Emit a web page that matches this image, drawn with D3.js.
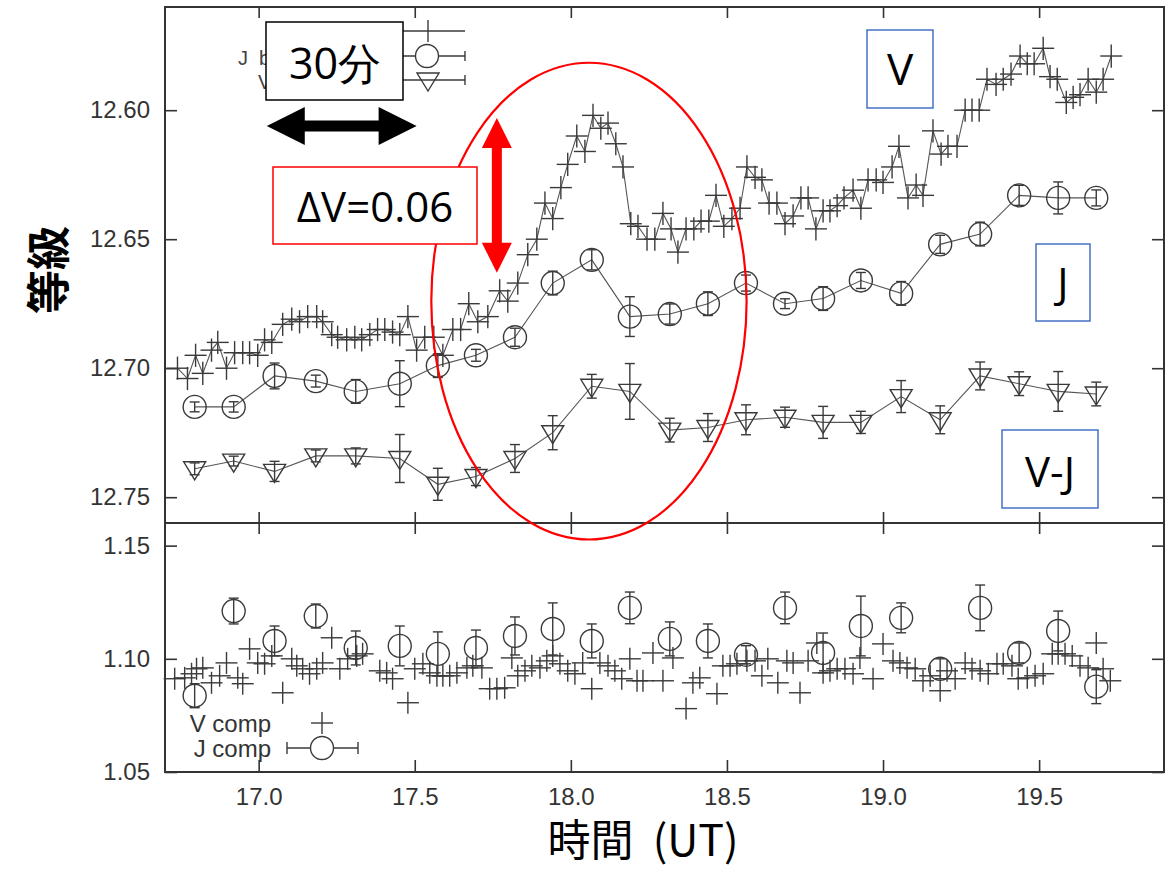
<!DOCTYPE html>
<html><head><meta charset="utf-8">
<script src="https://cdn.jsdelivr.net/npm/d3@7"></script>
<style>body{margin:0;background:#fff}svg{display:block}</style>
</head><body>
<svg id="c" width="1166" height="869"></svg>
<script>
// ---- data ----
const vTime = [16.740,16.772,16.798,16.821,16.849,16.869,16.897,16.923,16.949,16.971,
16.997,17.019,17.042,17.077,17.106,17.131,17.157,17.186,17.205,17.234,
17.253,17.282,17.308,17.330,17.356,17.381,17.404,17.429,17.452,17.478,
17.506,17.532,17.561,17.590,17.622,17.647,17.673,17.702,17.734,17.772,
17.798,17.830,17.862,17.891,17.917,17.942,17.968,17.990,18.019,18.045,
18.071,18.096,18.119,18.144,18.167,18.192,18.215,18.244,18.269,18.295,
18.321,18.343,18.369,18.394,18.417,18.442,18.465,18.490,18.516,18.542,
18.564,18.590,18.612,18.635,18.660,18.686,18.712,18.737,18.760,18.785,
18.808,18.830,18.853,18.875,18.904,18.929,18.952,18.978,19.000,19.029,
19.051,19.080,19.106,19.128,19.160,19.186,19.208,19.237,19.263,19.285,
19.308,19.333,19.362,19.385,19.410,19.439,19.462,19.484,19.513,19.535,
19.558,19.587,19.609,19.631,19.657,19.683,19.705,19.731];
const vMag = [12.700,12.704,12.695,12.702,12.693,12.690,12.700,12.694,12.694,12.694,
12.695,12.689,12.690,12.683,12.681,12.682,12.680,12.680,12.682,12.687,
12.688,12.689,12.688,12.689,12.687,12.685,12.685,12.686,12.687,12.680,
12.693,12.688,12.688,12.695,12.685,12.685,12.675,12.682,12.680,12.670,
12.674,12.667,12.656,12.650,12.636,12.642,12.630,12.621,12.610,12.616,
12.602,12.607,12.605,12.613,12.622,12.644,12.645,12.650,12.650,12.640,
12.646,12.655,12.646,12.646,12.643,12.643,12.633,12.645,12.642,12.638,
12.622,12.626,12.627,12.636,12.636,12.644,12.641,12.634,12.634,12.646,
12.639,12.639,12.637,12.634,12.631,12.638,12.627,12.627,12.628,12.622,
12.614,12.634,12.629,12.633,12.608,12.617,12.614,12.614,12.600,12.600,
12.600,12.588,12.590,12.588,12.586,12.579,12.582,12.582,12.576,12.587,
12.588,12.597,12.595,12.594,12.588,12.593,12.588,12.579];
const vErr = 0.0045;

const jTime = [16.795,16.920,17.051,17.183,17.311,17.452,17.574,17.696,17.821,17.942,
18.067,18.189,18.317,18.439,18.561,18.686,18.808,18.929,19.058,19.183,
19.311,19.436,19.561,19.683];
const jMag = [12.715,12.715,12.703,12.705,12.709,12.706,12.699,12.695,12.688,12.667,
12.658,12.680,12.679,12.675,12.667,12.675,12.673,12.666,12.671,12.652,
12.648,12.633,12.634,12.634];
const jErr = [0.0019,0.0020,0.0050,0.0023,0.0046,0.0089,0.0046,0.0023,0.0035,0.0046,
0.0039,0.0077,0.0039,0.0046,0.0031,0.0019,0.0046,0.0031,0.0046,0.0035,
0.0046,0.0039,0.0062,0.0031];
const vjMag = [12.739,12.736,12.740,12.734,12.734,12.735,12.745,12.742,12.735,12.725,
12.707,12.709,12.724,12.723,12.720,12.719,12.721,12.721,12.711,12.720,
12.703,12.706,12.709,12.710];
const vjErr = [0.0023,0.0019,0.0039,0.0023,0.0031,0.0093,0.0062,0.0035,0.0054,0.0066,
0.0046,0.0108,0.0046,0.0054,0.0058,0.0039,0.0062,0.0043,0.0062,0.0054,
0.0054,0.0046,0.0077,0.0046];
const jCompVal = [1.0837,1.1211,1.1079,1.1189,1.1048,1.1057,1.1022,1.1048,1.1101,1.1132,
1.1079,1.1225,1.1088,1.1079,1.1018,1.1225,1.1026,1.1145,1.1181,1.0956,
1.1225,1.1026,1.1123,1.0877];
const jCompErr = [0.0053,0.0057,0.0066,0.0053,0.0075,0.0088,0.0097,0.0079,0.0084,0.0115,
0.0075,0.0070,0.0075,0.0075,0.0040,0.0070,0.0088,0.0132,0.0066,0.0044,
0.0101,0.0044,0.0088,0.0075];
const vCompTime = [16.731,16.763,16.785,16.801,16.821,16.849,16.875,16.897,16.933,16.949,
16.971,16.997,17.019,17.042,17.077,17.106,17.122,17.141,17.163,17.186,
17.205,17.234,17.260,17.285,17.314,17.333,17.388,17.410,17.429,17.478,
17.500,17.526,17.548,17.571,17.590,17.612,17.635,17.667,17.686,17.715,
17.740,17.763,17.788,17.811,17.830,17.853,17.875,17.901,17.923,17.942,
17.965,17.990,18.013,18.038,18.067,18.093,18.119,18.141,18.163,18.189,
18.212,18.231,18.263,18.295,18.327,18.369,18.391,18.413,18.468,18.487,
18.510,18.532,18.564,18.590,18.612,18.631,18.663,18.692,18.712,18.734,
18.760,18.788,18.808,18.830,18.853,18.878,18.904,18.926,18.968,19.000,
19.032,19.054,19.077,19.103,19.128,19.151,19.183,19.205,19.231,19.263,
19.285,19.311,19.337,19.365,19.385,19.413,19.433,19.462,19.487,19.513,
19.542,19.561,19.583,19.606,19.631,19.657,19.683,19.705,19.728];
const vCompVal = [1.0912,1.0916,1.0934,1.0956,1.0960,1.0894,1.0925,1.0982,1.0916,1.0890,
1.1044,1.0982,1.0978,1.1013,1.0850,1.1000,1.0969,1.0956,1.0934,1.0956,
1.0982,1.1093,1.0956,1.1000,1.1013,1.1022,1.0947,1.0938,1.0912,1.0806,
1.0956,1.0978,1.0938,1.0925,1.0925,1.0925,1.0938,1.0960,1.0969,1.0960,
1.0868,1.0868,1.0872,1.1004,1.0925,1.0947,1.0969,1.0960,1.0991,1.1013,
1.0978,1.0947,1.0934,1.0982,1.0868,1.0982,1.0969,1.0947,1.0912,1.1000,
1.0903,1.0903,1.1026,1.0903,1.1004,1.0780,1.0894,1.0916,1.0846,1.0969,
1.0969,1.0978,1.0991,1.0991,1.0925,1.1000,1.0894,1.0991,1.0982,1.0850,
1.0991,1.1070,1.0938,1.0947,1.0956,1.0956,1.0934,1.1004,1.0912,1.1066,
1.0991,1.0982,1.0960,1.0956,1.0903,1.0925,1.0859,1.0947,1.0912,1.0982,
1.0956,1.0947,1.0934,1.0978,1.0978,1.0969,1.0912,1.0916,1.0925,1.0934,
1.1022,1.1022,1.1022,1.1013,1.0969,1.0960,1.1070,1.0956,1.0903];

const xTicks = [17.0,17.5,18.0,18.5,19.0,19.5];
const yTicksTop = [12.60,12.65,12.70,12.75];
const yTicksBottom = [1.05,1.10,1.15];
const legendTop = ["V band","J  band","V-J band"];
const legendBottom = ["V comp","J comp"];

// ---- layout ----
const svg = d3.select('#c');
const X0=165, X1=1164, T0=7, MID=523, B1=772;
const x = d3.scaleLinear().domain([16.7,19.9]).range([X0,X1]);
const yT = d3.scaleLinear().domain([12.56,12.76]).range([T0,MID]);
const yB = d3.scaleLinear().domain([1.05,1.16]).range([B1,MID]);
const ink = '#333', mk = '#3a3a3a';
const tickFont = '"Liberation Sans", Arial, sans-serif';

function styleAxis(g){
  g.select('.domain').remove();
  g.selectAll('.tick line').attr('stroke',ink).attr('stroke-width',1.6);
  g.selectAll('text').attr('fill','#333').attr('font-size',24).attr('font-family',tickFont);
}
// top panel axes
svg.append('g').attr('transform',`translate(${X0},0)`)
  .call(d3.axisLeft(yT).tickValues(yTicksTop).tickSize(-12).tickPadding(15).tickFormat(d3.format('.2f'))).call(styleAxis);
svg.append('g').attr('transform',`translate(${X1},0)`)
  .call(d3.axisRight(yT).tickValues(yTicksTop).tickSize(-12).tickFormat('')).call(styleAxis);
svg.append('g').attr('transform',`translate(0,${T0})`)
  .call(d3.axisTop(x).tickValues(xTicks).tickSize(-11).tickFormat('')).call(styleAxis);
svg.append('g').attr('transform',`translate(0,${MID})`)
  .call(d3.axisBottom(x).tickValues(xTicks).tickSize(-11).tickFormat('')).call(styleAxis);
// bottom panel axes
svg.append('g').attr('transform',`translate(${X0},0)`)
  .call(d3.axisLeft(yB).tickValues(yTicksBottom).tickSize(-12).tickPadding(15).tickFormat(d3.format('.2f'))).call(styleAxis);
svg.append('g').attr('transform',`translate(${X1},0)`)
  .call(d3.axisRight(yB).tickValues(yTicksBottom).tickSize(-12).tickFormat('')).call(styleAxis);
svg.append('g').attr('transform',`translate(0,${MID})`)
  .call(d3.axisTop(x).tickValues(xTicks).tickSize(-11).tickFormat('')).call(styleAxis);
svg.append('g').attr('transform',`translate(0,${B1})`)
  .call(d3.axisBottom(x).tickValues(xTicks).tickSize(-12).tickPadding(16).tickFormat(d3.format('.1f'))).call(styleAxis);

// frame
svg.append('rect').attr('x',X0).attr('y',T0).attr('width',X1-X0).attr('height',B1-T0)
  .attr('fill','none').attr('stroke',ink).attr('stroke-width',2);
svg.append('line').attr('x1',X0).attr('x2',X1).attr('y1',MID).attr('y2',MID).attr('stroke',ink).attr('stroke-width',2);

// ---- helpers ----
function cross(g, cx, cy, hw, yTop, yBot){
  g.append('line').attr('x1',cx-hw).attr('x2',cx+hw).attr('y1',cy).attr('y2',cy);
  g.append('line').attr('x1',cx).attr('x2',cx).attr('y1',yTop).attr('y2',yBot);
}
function errbar(g, cx, yTop, yBot, cap){
  g.append('line').attr('x1',cx).attr('x2',cx).attr('y1',yTop).attr('y2',yBot);
  g.append('line').attr('x1',cx-cap).attr('x2',cx+cap).attr('y1',yTop).attr('y2',yTop);
  g.append('line').attr('x1',cx-cap).attr('x2',cx+cap).attr('y1',yBot).attr('y2',yBot);
}
function tri(g, cx, cy){
  g.append('path').attr('d',`M${cx-11},${cy-7}L${cx+11},${cy-7}L${cx},${cy+11}Z`).attr('fill','none');
}

const lineStyle = p => p.attr('fill','none').attr('stroke','#555').attr('stroke-width',1.1);

// ---- top panel series ----
const vData = vTime.map((t,i)=>({t, m:vMag[i]}));
const jData = jTime.map((t,i)=>({t, m:jMag[i], e:jErr[i]}));
const vjData = jTime.map((t,i)=>({t, m:vjMag[i], e:vjErr[i]}));
const lineT = d3.line().x(d=>x(d.t)).y(d=>yT(d.m));

svg.append('path').datum(vData).attr('d',lineT).call(lineStyle);
svg.append('path').datum(jData).attr('d',lineT).call(lineStyle);
svg.append('path').datum(vjData).attr('d',lineT).call(lineStyle);

const gm = svg.append('g').attr('stroke',mk).attr('stroke-width',1.4).attr('fill','none');
vData.forEach(d=>cross(gm, x(d.t), yT(d.m), 11, yT(d.m-vErr), yT(d.m+vErr)));
jData.forEach(d=>{ errbar(gm, x(d.t), yT(d.m-d.e), yT(d.m+d.e), 5);
  gm.append('circle').attr('cx',x(d.t)).attr('cy',yT(d.m)).attr('r',11.5); });
vjData.forEach(d=>{ errbar(gm, x(d.t), yT(d.m-d.e), yT(d.m+d.e), 5); tri(gm, x(d.t), yT(d.m)); });

// ---- bottom panel series ----
const gb = svg.append('g').attr('stroke',mk).attr('stroke-width',1.4).attr('fill','none');
vCompTime.forEach((t,i)=>cross(gb, x(t), yB(vCompVal[i]), 11, yB(vCompVal[i])-11, yB(vCompVal[i])+11));
jTime.forEach((t,i)=>{ const v=jCompVal[i], e=jCompErr[i];
  errbar(gb, x(t), yB(v+e), yB(v-e), 5);
  gb.append('circle').attr('cx',x(t)).attr('cy',yB(v)).attr('r',11.5); });

// ---- legends ----
const legFont = '"Liberation Sans", Arial, sans-serif';
const lg = svg.append('g').attr('xml:space','preserve');
lg.append('text').attr('x',330).attr('y',40).text(legendTop[0]);
lg.append('text').attr('x',238).attr('y',65).text(legendTop[1]);
lg.append('text').attr('x',258).attr('y',89).text(legendTop[2]);
lg.selectAll('text').attr('font-family',legFont).attr('font-size',20).attr('fill','#444').style('white-space','pre');
const lgm = svg.append('g').attr('stroke',mk).attr('stroke-width',1.4).attr('fill','none');
lgm.append('line').attr('x1',398).attr('x2',465).attr('y1',31).attr('y2',31);
lgm.append('line').attr('x1',428).attr('x2',428).attr('y1',20).attr('y2',42);
[[56,'c'],[80,'t']].forEach(([yy,k])=>{
  lgm.append('line').attr('x1',398).attr('x2',465).attr('y1',yy).attr('y2',yy);
  lgm.append('line').attr('x1',465).attr('x2',465).attr('y1',yy-5).attr('y2',yy+5);
  if(k==='c') lgm.append('circle').attr('cx',427).attr('cy',yy).attr('r',11.5).attr('fill','#fff');
  else tri(lgm,428,yy);
});
const lb = svg.append('g').attr('font-family',legFont).attr('font-size',24).attr('fill','#333').attr('text-anchor','end');
lb.append('text').attr('x',271).attr('y',732).text(legendBottom[0]);
lb.append('text').attr('x',271).attr('y',757).text(legendBottom[1]);
const lbm = svg.append('g').attr('stroke',mk).attr('stroke-width',1.4).attr('fill','none');
cross(lbm, 322, 723, 11, 712, 734);
lbm.append('line').attr('x1',287).attr('x2',358).attr('y1',748).attr('y2',748);
lbm.append('line').attr('x1',287).attr('x2',287).attr('y1',742).attr('y2',754);
lbm.append('line').attr('x1',358).attr('x2',358).attr('y1',742).attr('y2',754);
lbm.append('circle').attr('cx',322).attr('cy',748).attr('r',11.5).attr('fill','#fff');

// ---- axis titles ----
svg.append('text').attr('transform','translate(46,270) rotate(-90)').attr('text-anchor','middle')
  .attr('dominant-baseline','central').attr('font-family','"Noto Sans CJK JP", sans-serif')
  .attr('font-weight','bold').attr('font-size',44).attr('fill','#000').text('等級');
svg.append('text').attr('x',643).attr('y',856).attr('text-anchor','middle').style('white-space','pre')
  .attr('font-family','"Noto Sans CJK JP", sans-serif').attr('font-size',43).attr('fill','#000').text('時間\u00a0\u00a0(UT)');

// ---- annotations ----
const annFont = '"Open Sans", "Noto Sans", sans-serif';
svg.append('ellipse').attr('cx',x(18.058)).attr('cy',yT(12.674))
  .attr('rx',x(18.563)-x(18.058)).attr('ry',yT(12.7664)-yT(12.674))
  .attr('fill','none').attr('stroke','#ff0000').attr('stroke-width',2.2);

function box(x0,y0,w,h,col,label,tx,ty,fs){
  svg.append('rect').attr('x',x0).attr('y',y0).attr('width',w).attr('height',h)
    .attr('fill','#fff').attr('stroke',col).attr('stroke-width',1.5);
  svg.append('text').attr('x',tx).attr('y',ty).attr('text-anchor','middle')
    .attr('font-family',annFont).attr('font-size',fs).attr('fill','#000').text(label);
}
box(266,22,137,78,'#000','30分',335,79,43);
{ const xa=x(17.026), xb=x(17.506), yy=126, hl=38, hw=19, sw=5.5;
  svg.append('path').attr('d',`M${xa},${yy}L${xa+hl},${yy-hw}L${xa+hl},${yy-sw}L${xb-hl},${yy-sw}L${xb-hl},${yy-hw}L${xb},${yy}L${xb-hl},${yy+hw}L${xb-hl},${yy+sw}L${xa+hl},${yy+sw}L${xa+hl},${yy+hw}Z`).attr('fill','#000'); }
box(273,167,204,77,'#ff0000','ΔV=0.06',375,222,42);
{ const xx=x(17.763), ya=yT(12.603), yb=yT(12.663), hl=30, hw=15, sw=5;
  svg.append('path').attr('d',`M${xx},${ya}L${xx+hw},${ya+hl}L${xx+sw},${ya+hl}L${xx+sw},${yb-hl}L${xx+hw},${yb-hl}L${xx},${yb}L${xx-hw},${yb-hl}L${xx-sw},${yb-hl}L${xx-sw},${ya+hl}L${xx-hw},${ya+hl}Z`).attr('fill','#ff0000'); }
box(867,30,66,78,'#4472c4','V',900,85,44);
box(1036,244,54,77,'#4472c4','J',1063,298,42);
box(1002,430,96,78,'#4472c4','V-J',1050,487,42);
</script>
</body></html>
